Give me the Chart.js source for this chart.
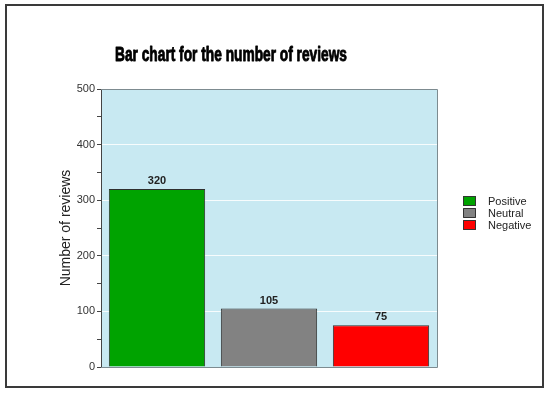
<!DOCTYPE html>
<html>
<head>
<meta charset="utf-8">
<script src="https://cdn.jsdelivr.net/npm/chart.js@4.4.1/dist/chart.umd.min.js"></script>
<style>
  html, body { margin: 0; padding: 0; background: #fff; }
</style>
</head>
<body>
<canvas id="chart" width="550" height="395"></canvas>
<script>
// data
const categories = ["Positive", "Neutral", "Negative"];
const reviewCounts = [320, 105, 75];
const barColors = ["#00a300", "#828282", "#ff0000"];
const yTicks = [0, 100, 200, 300, 400, 500];
const chartTitle = "Bar chart for the number of reviews";
const yAxisTitle = "Number of reviews";

const plotBg = "#c8e9f2";

// background, frame, title, value labels and legend
const decorations = {
  id: "decorations",
  beforeDraw(chart) {
    const { ctx, chartArea: a } = chart;
    ctx.save();
    ctx.fillStyle = "#fff";
    ctx.fillRect(0, 0, chart.width, chart.height);
    ctx.fillStyle = plotBg;
    ctx.fillRect(a.left, a.top, a.right - a.left, a.bottom - a.top);
    ctx.restore();
  },
  afterDatasetsDraw(chart) {
    const { ctx } = chart;
    const meta = chart.getDatasetMeta(0);
    ctx.save();
    ctx.font = "bold 11px 'Liberation Sans', Arial, sans-serif";
    ctx.fillStyle = "#222";
    ctx.textAlign = "center";
    ctx.textBaseline = "alphabetic";
    meta.data.forEach((bar, i) => {
      ctx.fillText(String(reviewCounts[i]), bar.x, bar.y - 5);
    });
    ctx.restore();
  },
  afterDraw(chart) {
    const { ctx, chartArea: a } = chart;
    ctx.save();
    // plot border (top, right, bottom)
    ctx.strokeStyle = "#7d8b90";
    ctx.lineWidth = 1;
    ctx.beginPath();
    ctx.moveTo(a.left, a.top + 0.5);
    ctx.lineTo(a.right + 0.5, a.top + 0.5);
    ctx.lineTo(a.right + 0.5, a.bottom + 0.5);
    ctx.lineTo(a.left, a.bottom + 0.5);
    ctx.stroke();

    // outer frame
    ctx.strokeStyle = "#3a3a3a";
    ctx.lineWidth = 2;
    ctx.strokeRect(6, 5, 537, 382);

    // title (heavy condensed look)
    ctx.font = "bold 20px 'Liberation Sans Narrow', 'Liberation Sans', Arial, sans-serif";
    ctx.fillStyle = "#000";
    ctx.strokeStyle = "#000";
    ctx.lineWidth = 0.9;
    ctx.lineJoin = "round";
    ctx.textAlign = "center";
    ctx.textBaseline = "alphabetic";
    ctx.fillText(chartTitle, 231, 61, 232);
    ctx.strokeText(chartTitle, 231, 61, 232);

    // legend
    ctx.font = "11px 'Liberation Sans', Arial, sans-serif";
    ctx.textAlign = "left";
    ctx.textBaseline = "middle";
    categories.forEach((name, i) => {
      const y = 196 + i * 12;
      ctx.fillStyle = barColors[i];
      ctx.fillRect(463, y, 13, 10);
      ctx.strokeStyle = "#333";
      ctx.lineWidth = 1;
      ctx.strokeRect(463.5, y + 0.5, 12, 9);
      ctx.fillStyle = "#222";
      ctx.fillText(name, 488, y + 5.5);
    });
    ctx.restore();
  }
};

new Chart(document.getElementById("chart"), {
  type: "bar",
  data: {
    labels: categories,
    datasets: [{
      label: yAxisTitle,
      data: reviewCounts,
      backgroundColor: barColors,
      borderColor: "#2f2f2f",
      borderWidth: 1,
      barPercentage: 0.86,
      categoryPercentage: 1
    }]
  },
  options: {
    responsive: false,
    animation: false,
    devicePixelRatio: 1,
    layout: { padding: { top: 89, bottom: 28, left: 54, right: 113 } },
    plugins: {
      legend: { display: false },
      title: { display: false },
      tooltip: { enabled: false }
    },
    scales: {
      x: { display: false },
      y: {
        min: yTicks[0],
        max: yTicks[yTicks.length - 1],
        afterFit(scale) { scale.width = 47; },
        ticks: {
          stepSize: 50,
          padding: 2,
          color: "#333",
          font: { family: "'Liberation Sans', Arial, sans-serif", size: 11 },
          callback: (v) => (yTicks.includes(v) ? v : "")
        },
        grid: {
          drawTicks: true,
          tickLength: 4,
          tickColor: "#444",
          color: (c) => {
            const v = c.tick && c.tick.value;
            return yTicks.includes(v) && v !== 0 && v !== 500 ? "rgba(255,255,255,0.85)" : "rgba(0,0,0,0)";
          }
        },
        border: { display: true, color: "#444", width: 1 },
        title: {
          display: true,
          text: yAxisTitle,
          color: "#222",
          font: { family: "'Liberation Sans', Arial, sans-serif", size: 14 },
          padding: { top: 4, bottom: 4 }
        }
      }
    }
  },
  plugins: [decorations]
});
</script>
</body>
</html>
